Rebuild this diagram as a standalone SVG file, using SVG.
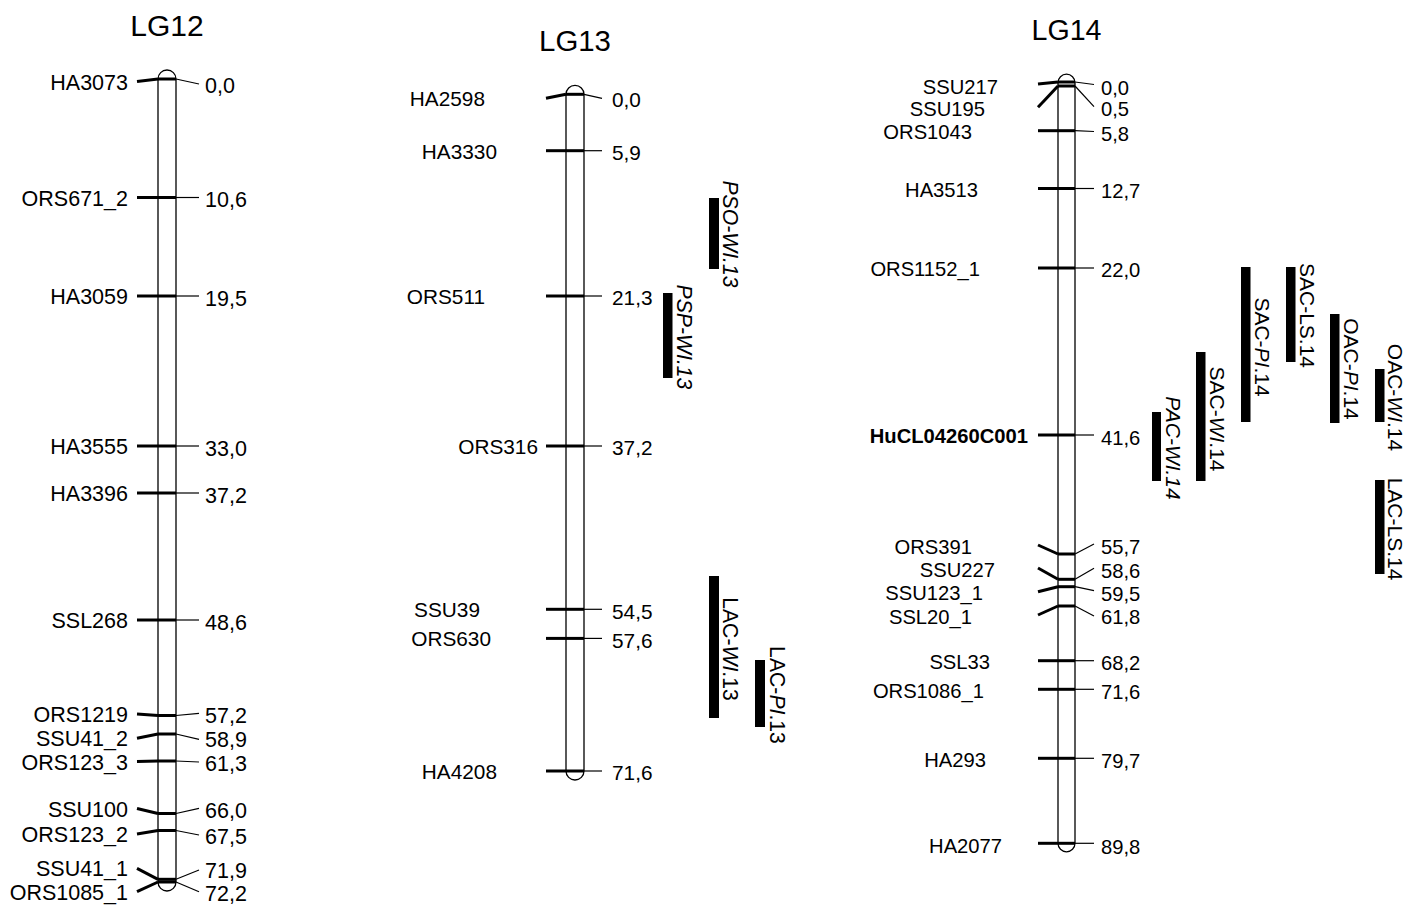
<svg xmlns="http://www.w3.org/2000/svg" width="1421" height="908" viewBox="0 0 1421 908">
<style>
text { font-family: "Liberation Sans", Arial, Helvetica, sans-serif; fill: #000; }
.t12 { font-size: 30px; text-anchor: middle; }
.t13 { font-size: 29.4px; text-anchor: middle; }
.t14 { font-size: 28.6px; text-anchor: middle; }
.l12 { font-size: 21.5px; text-anchor: end; }
.n12 { font-size: 21.5px; }
.l13 { font-size: 20.8px; text-anchor: end; }
.n13 { font-size: 20.8px; }
.l14 { font-size: 20.2px; text-anchor: end; }
.n14 { font-size: 20.2px; }
.bold { font-weight: bold; }
.q13 { font-size: 21.2px; text-anchor: middle; }
.q14 { font-size: 21px; text-anchor: middle; }
.it { font-style: italic; }
.chr { fill: #fff; stroke: #000; stroke-width: 1.3; }
.mk { stroke: #000; stroke-width: 3; fill: none; }
.ll { stroke: #000; stroke-width: 3; fill: none; }
.rl { stroke: #000; stroke-width: 1.2; fill: none; }
.bar { fill: #000; }
</style>

<!-- LG12 -->
<g id="LG12">
  <text class="t12" x="167" y="36">LG12</text>
  <path class="chr" d="M158,79 A9,9 0 0 1 176,79 L176,882 A9,9 0 0 1 158,882 Z"/>
  <g id="LG12-ticks">
    <line class="mk" x1="158" y1="79" x2="176" y2="79"/>
    <line class="mk" x1="158" y1="197.5" x2="176" y2="197.5"/>
    <line class="mk" x1="158" y1="296" x2="176" y2="296"/>
    <line class="mk" x1="158" y1="446" x2="176" y2="446"/>
    <line class="mk" x1="158" y1="493" x2="176" y2="493"/>
    <line class="mk" x1="158" y1="620" x2="176" y2="620"/>
    <line class="mk" x1="158" y1="715.5" x2="176" y2="715.5"/>
    <line class="mk" x1="158" y1="734" x2="176" y2="734"/>
    <line class="mk" x1="158" y1="761" x2="176" y2="761"/>
    <line class="mk" x1="158" y1="813.5" x2="176" y2="813.5"/>
    <line class="mk" x1="158" y1="830.5" x2="176" y2="830.5"/>
    <line class="mk" x1="158" y1="879.3" x2="176" y2="879.3"/>
    <line class="mk" x1="158" y1="882" x2="176" y2="882"/>
  </g>
  <g id="LG12-labels">
    <text class="l12" x="128" y="89.5">HA3073</text>
    <text class="l12" x="128" y="205.5">ORS671_2</text>
    <text class="l12" x="128" y="304">HA3059</text>
    <text class="l12" x="128" y="454">HA3555</text>
    <text class="l12" x="128" y="501">HA3396</text>
    <text class="l12" x="128" y="628">SSL268</text>
    <text class="l12" x="128" y="722">ORS1219</text>
    <text class="l12" x="128" y="746">SSU41_2</text>
    <text class="l12" x="128" y="769.5">ORS123_3</text>
    <text class="l12" x="128" y="816.5">SSU100</text>
    <text class="l12" x="128" y="841.5">ORS123_2</text>
    <text class="l12" x="128" y="876">SSU41_1</text>
    <text class="l12" x="128" y="900">ORS1085_1</text>
  </g>
  <g id="LG12-positions">
    <text class="n12" x="205" y="92.5">0,0</text>
    <text class="n12" x="205" y="206.5">10,6</text>
    <text class="n12" x="205" y="305.5">19,5</text>
    <text class="n12" x="205" y="455.5">33,0</text>
    <text class="n12" x="205" y="502.5">37,2</text>
    <text class="n12" x="205" y="629.5">48,6</text>
    <text class="n12" x="205" y="722.5">57,2</text>
    <text class="n12" x="205" y="747">58,9</text>
    <text class="n12" x="205" y="771">61,3</text>
    <text class="n12" x="205" y="817.5">66,0</text>
    <text class="n12" x="205" y="843.5">67,5</text>
    <text class="n12" x="205" y="877.5">71,9</text>
    <text class="n12" x="205" y="901">72,2</text>
  </g>
</g>

<!-- LG13 -->
<g id="LG13">
  <text class="t13" x="575" y="51">LG13</text>
  <path class="chr" d="M566,94.3 A9,9 0 0 1 584,94.3 L584,771 A9,9 0 0 1 566,771 Z"/>
  <g id="LG13-ticks">
    <line class="mk" x1="566" y1="94.3" x2="584" y2="94.3"/>
    <line class="mk" x1="566" y1="150.7" x2="584" y2="150.7"/>
    <line class="mk" x1="566" y1="296" x2="584" y2="296"/>
    <line class="mk" x1="566" y1="446" x2="584" y2="446"/>
    <line class="mk" x1="566" y1="609.3" x2="584" y2="609.3"/>
    <line class="mk" x1="566" y1="638.4" x2="584" y2="638.4"/>
    <line class="mk" x1="566" y1="771" x2="584" y2="771"/>
  </g>
  <g id="LG13-labels">
    <text class="l13" x="485" y="106">HA2598</text>
    <text class="l13" x="497" y="159">HA3330</text>
    <text class="l13" x="485" y="304">ORS511</text>
    <text class="l13" x="538" y="454">ORS316</text>
    <text class="l13" x="480" y="617">SSU39</text>
    <text class="l13" x="491" y="646">ORS630</text>
    <text class="l13" x="497" y="778.5">HA4208</text>
  </g>
  <g id="LG13-positions">
    <text class="n13" x="612" y="106.5">0,0</text>
    <text class="n13" x="612" y="159.5">5,9</text>
    <text class="n13" x="612" y="305">21,3</text>
    <text class="n13" x="612" y="455">37,2</text>
    <text class="n13" x="612" y="619">54,5</text>
    <text class="n13" x="612" y="648">57,6</text>
    <text class="n13" x="612" y="780">71,6</text>
  </g>
</g>

<!-- LG14 -->
<g id="LG14">
  <text class="t14" x="1066.5" y="40">LG14</text>
  <path class="chr" d="M1058,82.7 A8.5,8.5 0 0 1 1075,82.7 L1075,843.3 A8.5,8.5 0 0 1 1058,843.3 Z"/>
  <g id="LG14-ticks">
    <line class="mk" x1="1058" y1="82" x2="1075" y2="82"/>
    <line class="mk" x1="1058" y1="86" x2="1075" y2="86"/>
    <line class="mk" x1="1058" y1="130.7" x2="1075" y2="130.7"/>
    <line class="mk" x1="1058" y1="188.5" x2="1075" y2="188.5"/>
    <line class="mk" x1="1058" y1="268" x2="1075" y2="268"/>
    <line class="mk" x1="1058" y1="435" x2="1075" y2="435"/>
    <line class="mk" x1="1058" y1="554" x2="1075" y2="554"/>
    <line class="mk" x1="1058" y1="579.3" x2="1075" y2="579.3"/>
    <line class="mk" x1="1058" y1="586.7" x2="1075" y2="586.7"/>
    <line class="mk" x1="1058" y1="606" x2="1075" y2="606"/>
    <line class="mk" x1="1058" y1="660.7" x2="1075" y2="660.7"/>
    <line class="mk" x1="1058" y1="689.3" x2="1075" y2="689.3"/>
    <line class="mk" x1="1058" y1="758.3" x2="1075" y2="758.3"/>
    <line class="mk" x1="1058" y1="843.3" x2="1075" y2="843.3"/>
  </g>
  <g id="LG14-labels">
    <text class="l14" x="998" y="93.5">SSU217</text>
    <text class="l14" x="985" y="115.5">SSU195</text>
    <text class="l14" x="972" y="139">ORS1043</text>
    <text class="l14" x="978" y="196.5">HA3513</text>
    <text class="l14" x="980" y="276">ORS1152_1</text>
    <text class="l14 bold" x="1028" y="443">HuCL04260C001</text>
    <text class="l14" x="972" y="553.5">ORS391</text>
    <text class="l14" x="995" y="577">SSU227</text>
    <text class="l14" x="983" y="600">SSU123_1</text>
    <text class="l14" x="972" y="623.5">SSL20_1</text>
    <text class="l14" x="990" y="668.5">SSL33</text>
    <text class="l14" x="984" y="697.5">ORS1086_1</text>
    <text class="l14" x="986" y="766.5">HA293</text>
    <text class="l14" x="1002" y="852.5">HA2077</text>
  </g>
  <g id="LG14-positions">
    <text class="n14" x="1101" y="94.5">0,0</text>
    <text class="n14" x="1101" y="115.5">0,5</text>
    <text class="n14" x="1101" y="140.5">5,8</text>
    <text class="n14" x="1101" y="197.5">12,7</text>
    <text class="n14" x="1101" y="277">22,0</text>
    <text class="n14" x="1101" y="444.5">41,6</text>
    <text class="n14" x="1101" y="553.5">55,7</text>
    <text class="n14" x="1101" y="577.5">58,6</text>
    <text class="n14" x="1101" y="600.5">59,5</text>
    <text class="n14" x="1101" y="623.5">61,8</text>
    <text class="n14" x="1101" y="669.5">68,2</text>
    <text class="n14" x="1101" y="698.5">71,6</text>
    <text class="n14" x="1101" y="767.5">79,7</text>
    <text class="n14" x="1101" y="853.5">89,8</text>
  </g>
</g>

<!-- QTL intervals -->
<g id="QTL-PSO-WI13"><rect class="bar" x="709" y="198" width="10" height="71"/>
  <text class="q13 it" transform="translate(723,234) rotate(90)">PSO-WI.13</text></g>
<g id="QTL-PSP-WI13"><rect class="bar" x="663" y="293" width="9.5" height="85"/>
  <text class="q13 it" transform="translate(677,337) rotate(90)">PSP-WI.13</text></g>
<g id="QTL-LAC-WI13"><rect class="bar" x="709" y="576" width="10" height="142"/>
  <text class="q13" transform="translate(723,649) rotate(90)">LAC-<tspan class="it">WI</tspan>.13</text></g>
<g id="QTL-LAC-PI13"><rect class="bar" x="755" y="660" width="10" height="67"/>
  <text class="q13" transform="translate(770,695) rotate(90)">LAC-<tspan class="it">PI</tspan>.13</text></g>

<g id="QTL-SAC-LS14"><rect class="bar" x="1286" y="267" width="9.5" height="95"/>
  <text class="q14" transform="translate(1300,315.5) rotate(90)">SAC-LS.14</text></g>
<g id="QTL-SAC-PI14"><rect class="bar" x="1241" y="267" width="9.5" height="155"/>
  <text class="q14" transform="translate(1255,347) rotate(90)">SAC-<tspan class="it">PI</tspan>.14</text></g>
<g id="QTL-OAC-PI14"><rect class="bar" x="1330" y="314" width="9.5" height="109"/>
  <text class="q14" transform="translate(1344,369) rotate(90)">OAC-<tspan class="it">PI</tspan>.14</text></g>
<g id="QTL-OAC-WI14"><rect class="bar" x="1375" y="369" width="9.5" height="53"/>
  <text class="q14" transform="translate(1388,397.5) rotate(90)">OAC-<tspan class="it">WI</tspan>.14</text></g>
<g id="QTL-SAC-WI14"><rect class="bar" x="1196" y="352" width="9.5" height="129"/>
  <text class="q14" transform="translate(1210,419) rotate(90)">SAC-<tspan class="it">WI</tspan>.14</text></g>
<g id="QTL-PAC-WI14"><rect class="bar" x="1152" y="412" width="9" height="69"/>
  <text class="q14 it" transform="translate(1166,448) rotate(90)">PAC-WI.14</text></g>
<g id="QTL-LAC-LS14"><rect class="bar" x="1375" y="480" width="9.5" height="94"/>
  <text class="q14" transform="translate(1388,529) rotate(90)">LAC-LS.14</text></g>

<!-- leader lines -->
<g id="connectors">
  <!-- LG12 left -->
  <path class="ll" d="M137,81.5 L158,79"/>
  <path class="ll" d="M137,197.5 L158,197.5"/>
  <path class="ll" d="M137,296 L158,296"/>
  <path class="ll" d="M137,446 L158,446"/>
  <path class="ll" d="M137,493 L158,493"/>
  <path class="ll" d="M137,620 L158,620"/>
  <path class="ll" d="M137,714 L158,715.5"/>
  <path class="ll" d="M137,738.3 L158,734"/>
  <path class="ll" d="M137,761.5 L158,761"/>
  <path class="ll" d="M137,808.5 L158,813.5"/>
  <path class="ll" d="M137,834 L158,830.5"/>
  <path class="ll" d="M137,868.3 L158,879.3"/>
  <path class="ll" d="M137,891.7 L158,882"/>
  <!-- LG12 right -->
  <path class="rl" d="M176,79 L199,84"/>
  <path class="rl" d="M176,197.5 L199,197.5"/>
  <path class="rl" d="M176,296 L199,296"/>
  <path class="rl" d="M176,446 L199,446"/>
  <path class="rl" d="M176,493 L199,493"/>
  <path class="rl" d="M176,620 L199,620"/>
  <path class="rl" d="M176,715.5 L199,713.3"/>
  <path class="rl" d="M176,734 L199,739.3"/>
  <path class="rl" d="M176,761 L199,762"/>
  <path class="rl" d="M176,813.5 L199,808.3"/>
  <path class="rl" d="M176,830.5 L199,835"/>
  <path class="rl" d="M176,879.3 L199,870"/>
  <path class="rl" d="M176,882 L199,891.7"/>
  <!-- LG13 left -->
  <path class="ll" d="M546,98.3 L566,94.3"/>
  <path class="ll" d="M546,150.7 L566,150.7"/>
  <path class="ll" d="M546,296 L566,296"/>
  <path class="ll" d="M546,446 L566,446"/>
  <path class="ll" d="M546,609.3 L566,609.3"/>
  <path class="ll" d="M546,638.4 L566,638.4"/>
  <path class="ll" d="M546,771 L566,771"/>
  <!-- LG13 right -->
  <path class="rl" d="M584,94.3 L602,98.3"/>
  <path class="rl" d="M584,150.7 L602,150.7"/>
  <path class="rl" d="M584,296 L602,296"/>
  <path class="rl" d="M584,446 L602,446"/>
  <path class="rl" d="M584,609.3 L602,609.3"/>
  <path class="rl" d="M584,638.4 L602,638.4"/>
  <path class="rl" d="M584,771 L602,771"/>
  <!-- LG14 left -->
  <path class="ll" d="M1038,84 L1058,82"/>
  <path class="ll" d="M1038,107.3 L1058,86"/>
  <path class="ll" d="M1038,130.7 L1058,130.7"/>
  <path class="ll" d="M1038,188.5 L1058,188.5"/>
  <path class="ll" d="M1038,268 L1058,268"/>
  <path class="ll" d="M1038,435 L1058,435"/>
  <path class="ll" d="M1038,545 L1058,554"/>
  <path class="ll" d="M1038,568 L1058,579.3"/>
  <path class="ll" d="M1038,591.7 L1058,586.7"/>
  <path class="ll" d="M1038,615 L1058,606"/>
  <path class="ll" d="M1038,660.7 L1058,660.7"/>
  <path class="ll" d="M1038,689.3 L1058,689.3"/>
  <path class="ll" d="M1038,758.3 L1058,758.3"/>
  <path class="ll" d="M1038,843.3 L1058,843.3"/>
  <!-- LG14 right -->
  <path class="rl" d="M1075,82 L1094,84.5"/>
  <path class="rl" d="M1075,86 L1094,106.7"/>
  <path class="rl" d="M1075,130.7 L1094,131.5"/>
  <path class="rl" d="M1075,188.5 L1094,188.5"/>
  <path class="rl" d="M1075,268 L1094,268"/>
  <path class="rl" d="M1075,435 L1094,435"/>
  <path class="rl" d="M1075,554 L1094,544"/>
  <path class="rl" d="M1075,579.3 L1094,568.3"/>
  <path class="rl" d="M1075,586.7 L1094,590.7"/>
  <path class="rl" d="M1075,606 L1094,616"/>
  <path class="rl" d="M1075,660.7 L1094,660.7"/>
  <path class="rl" d="M1075,689.3 L1094,689.3"/>
  <path class="rl" d="M1075,758.3 L1094,758.3"/>
  <path class="rl" d="M1075,843.3 L1094,843.3"/>
</g>
</svg>
